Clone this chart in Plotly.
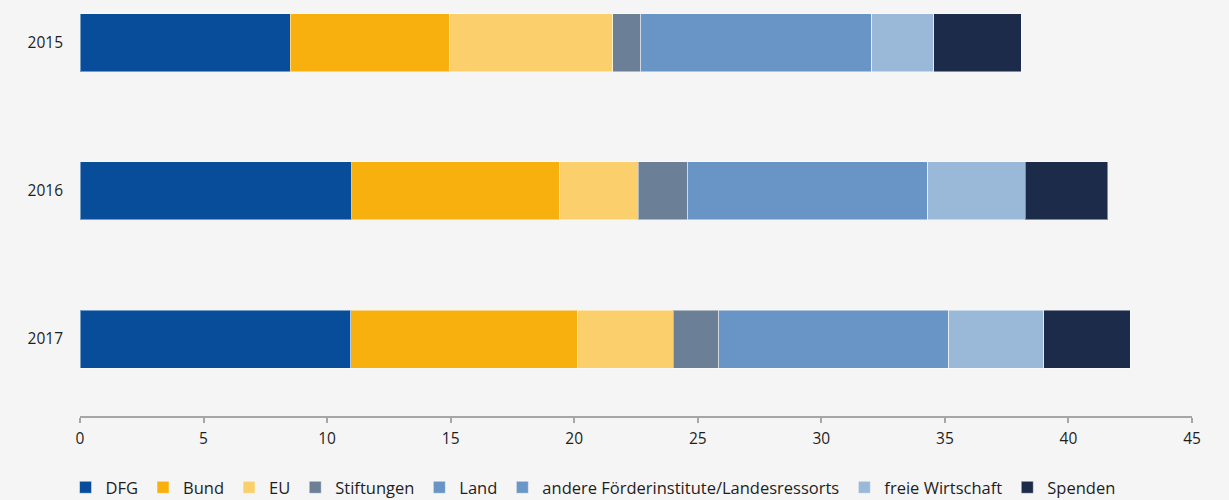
import plotly.graph_objects as go

# Years (categories on the vertical axis)
years = ["2015", "2016", "2017"]

# Funding sources (legend order) and their colours
sources = ["DFG", "Bund", "EU", "Stiftungen", "Land",
           "andere Förderinstitute/Landesressorts", "freie Wirtschaft", "Spenden"]
colors = ["#074d9a", "#f8b00e", "#fbcf6c", "#6b8096", "#6895c5",
          "#6a97c7", "#9ab8d8", "#1c2b4a"]

# Values per source, one entry per year
dfg = [8.5, 11.0, 10.95]
bund = [6.45, 8.4, 9.2]
eu = [6.6, 3.2, 3.85]
stiftungen = [1.15, 2.0, 1.85]
land = [9.35, 9.7, 9.3]
andere = [0.0, 0.0, 0.0]
freie_wirtschaft = [2.5, 3.95, 3.85]
spenden = [3.55, 3.35, 3.5]

series = [dfg, bund, eu, stiftungen, land, andere, freie_wirtschaft, spenden]

x_ticks = [0, 5, 10, 15, 20, 25, 30, 35, 40, 45]

font_family = "Open Sans, Noto Sans, sans-serif"
text_color = "#1e1e1e"

fig = go.Figure()
for name, vals, col in zip(sources, series, colors):
    fig.add_trace(go.Bar(
        name=name,
        y=years,
        x=vals,
        orientation="h",
        marker=dict(color=col, line=dict(color="rgba(255,255,255,0.45)", width=1)),
        hoverinfo="x+name",
    ))

fig.update_layout(
    barmode="stack",
    bargap=0.608,
    width=1229,
    height=500,
    paper_bgcolor="#f5f5f5",
    plot_bgcolor="#f5f5f5",
    margin=dict(l=80, r=37, t=0, b=84, autoexpand=False),
    font=dict(family=font_family, size=15.5, color=text_color),
    showlegend=True,
    legend=dict(
        orientation="h",
        x=-0.013, xanchor="left",
        y=-0.172, yanchor="middle",
        font=dict(family=font_family, size=16.5, color=text_color),
        traceorder="normal",
        itemwidth=30,
        bgcolor="rgba(0,0,0,0)",
    ),
    xaxis=dict(
        range=[0, 45],
        tickvals=x_ticks,
        ticktext=[str(t) for t in x_ticks],
        showgrid=False,
        zeroline=False,
        showline=True,
        linecolor="#a6a6a6",
        linewidth=1.5,
        ticks="outside",
        ticklen=5,
        tickcolor="#a6a6a6",
        tickwidth=1.5,
        tickfont=dict(size=15.5, color=text_color),
        ticklabelstandoff=3,
    ),
    yaxis=dict(
        categoryorder="array",
        categoryarray=years,
        range=[2.52, -0.29],
        showgrid=False,
        zeroline=False,
        showline=False,
        ticks="",
        tickfont=dict(size=15.5, color=text_color),
        ticklabelstandoff=16,
    ),
)

fig.write_html("out.html")
